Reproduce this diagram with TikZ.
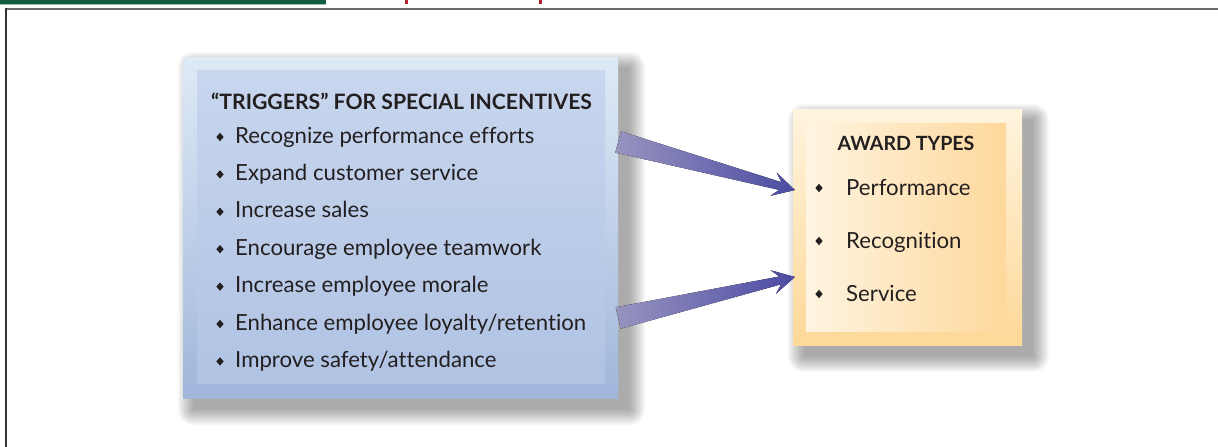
\documentclass[tikz,border=0pt]{standalone}
\usepackage{fontspec}
\setmainfont{Lato}[Ligatures={TeX,NoCommon}]
\usetikzlibrary{positioning, calc, shapes.geometric}

\definecolor{bargreen}{HTML}{135E40}
\definecolor{barred}{HTML}{B5242E}
\definecolor{framegray}{HTML}{6B6B6B}
\definecolor{inkdark}{HTML}{231F20}
\definecolor{bluetop}{HTML}{DFEAF7}
\definecolor{bluebot}{HTML}{A0B6DA}
\definecolor{blueintop}{HTML}{C8D6EE}
\definecolor{blueinbot}{HTML}{B0C3E3}
\definecolor{sandtop}{HTML}{FFF4DE}
\definecolor{sandbot}{HTML}{FDD898}
\definecolor{sandleft}{HTML}{FEF4E0}
\definecolor{sandright}{HTML}{FED89C}
\definecolor{arrowpale}{HTML}{9894C0}
\definecolor{arrowblue}{HTML}{4B4BA3}

% soft drop shadow behind a box node
\newcommand{\softshadow}[1]{%
  \foreach \k in {0,...,16}
    \fill[black, opacity=0.022, rounded corners=\k pt]
      ($(#1.north west)+(11-\k,11-\k)$) rectangle ($(#1.south east)+(11+\k,11+\k)$);
}
% tapered arrow from #1 to tip #2
\newcommand{\taperpath}[2]{%
  ($(#1)!11pt!90:(#2)$) -- ($(#2)!15pt!(#1)!4pt!-90:(#1)$)
  -- ($(#2)!22pt!(#1)!12pt!-90:(#1)$) -- (#2)
  -- ($(#2)!22pt!(#1)!12pt!90:(#1)$) -- ($(#2)!15pt!(#1)!4pt!90:(#1)$)
  -- ($(#1)!11pt!-90:(#2)$) -- cycle}

\tikzset{
  bigbox/.style={rectangle, inner sep=0pt},
  bul/.style={diamond, fill=inkdark, inner sep=0pt, minimum width=7.5pt, minimum height=8.5pt},
  itemtext/.style={anchor=base west, inner sep=0pt, text=inkdark,
    font=\fontsize{22.2}{26}\selectfont},
  headtext/.style={itemtext, font=\fontsize{21.2}{25}\selectfont\bfseries},
  arrowfill/.style={left color=arrowpale, middle color=arrowblue, right color=arrowblue}
}

\begin{document}
\begin{tikzpicture}[x=1pt, y=-1pt]
  \useasboundingbox (0,0) rectangle (1218,447);

  % page frame
  \fill[bargreen] (0,0) rectangle (326,4);
  \fill[bargreen!40] (0,4) rectangle (326,5);
  \fill[barred] (405,0) rectangle (408,4);
  \fill[barred] (539,0) rectangle (542,4);
  \fill[framegray] (5,8) rectangle (1218,10);
  \fill[black!80] (5,8) rectangle (7,447);

  % boxes
  \coordinate (trigc) at (400.5,227.5);
  \coordinate (awardc) at (907.5,227);
  \node[bigbox, minimum width=435pt, minimum height=341pt] (trig) at (trigc) {};
  \node[bigbox, minimum width=229pt, minimum height=236pt] (award) at (awardc) {};
  \softshadow{trig}
  \softshadow{award}
  \node[bigbox, minimum width=435pt, minimum height=341pt,
    top color=bluetop, bottom color=bluebot] at (trig) {};
  \node[bigbox, minimum width=408pt, minimum height=313pt,
    top color=blueintop, bottom color=blueinbot] (triginner) at (401,226.5) {};
  \node[bigbox, minimum width=229pt, minimum height=236pt,
    top color=sandtop, bottom color=sandbot] at (award) {};
  \node[bigbox, minimum width=200pt, minimum height=208pt,
    left color=sandleft, right color=sandright] (awardinner) at (906,227) {};

  % left list
  \node[headtext] (trighead) at (211,109) {``TRIGGERS'' FOR SPECIAL INCENTIVES};
  \foreach \t [count=\i] in {Recognize performance efforts, Expand customer service,
      Increase sales, Encourage employee teamwork, Increase employee morale,
      Enhance employee loyalty/retention, Improve safety/attendance} {
    \node[itemtext] (trig\i) at (235,{143+37.4*(\i-1)}) {\t};
    \node[bul] (trigdot\i) at (220,{137+37.4*(\i-1)}) {};
  }

  % right list
  \node[headtext, anchor=base, font=\fontsize{19.6}{24}\selectfont\bfseries]
    (awardhead) at (906,150) {AWARD TYPES};
  \foreach \t/\y [count=\i] in {Performance/195, Recognition/248, Service/301} {
    \node[itemtext] (award\i) at (846,\y) {\t};
    \node[bul] (awarddot\i) at (819,\y-7) {};
  }

  % arrows
  \coordinate[above=85.5pt of trig.east] (upfrom);
  \coordinate[below=90.5pt of trig.east] (lowfrom);
  \coordinate[above=37pt of award.west, xshift=2pt] (uptip);
  \coordinate[below=50pt of award.west, xshift=2pt] (lowtip);
  \foreach \s in {3,6,9,12}
    \fill[black, opacity=0.04, shift={(\s,\s+3)}] \taperpath{upfrom}{uptip};
  \foreach \s in {3,6,9,12}
    \fill[black, opacity=0.04, shift={(\s,\s+3)}] \taperpath{lowfrom}{lowtip};
  \fill[arrowfill] \taperpath{upfrom}{uptip};
  \fill[arrowfill] \taperpath{lowfrom}{lowtip};
\end{tikzpicture}
\end{document}
